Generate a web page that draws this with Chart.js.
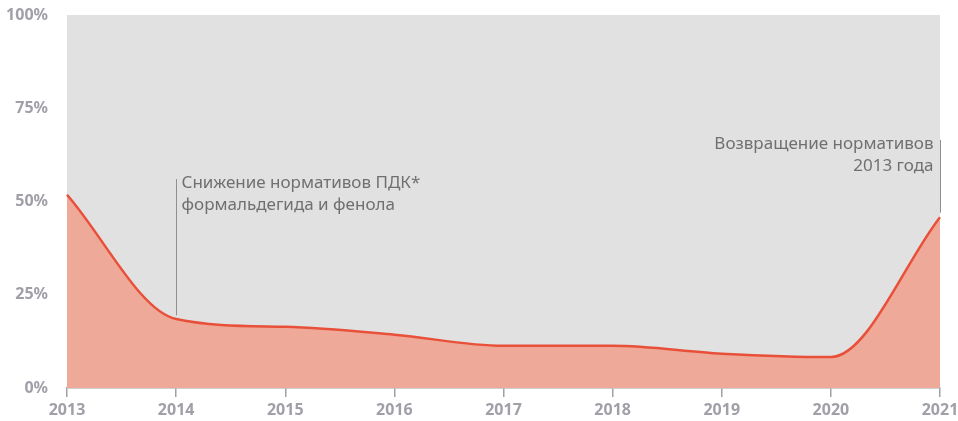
<!DOCTYPE html>
<html lang="ru">
<head>
<meta charset="UTF-8">
<title>Нормативы ПДК</title>
<script src="https://cdn.jsdelivr.net/npm/chart.js"></script>
<style>
  html, body { margin: 0; padding: 0; background: #fff; }
  #wrap { width: 958px; height: 421px; }
</style>
</head>
<body>
<div id="wrap"><canvas id="chart" width="958" height="421"></canvas></div>
<script>
    const years = ['2013', '2014', '2015', '2016', '2017', '2018', '2019', '2020', '2021'];
    const shares = [51.8, 18.5, 16.4, 14.3, 11.3, 11.3, 9.2, 8.3, 45.8];
    const yTicks = [0, 25, 50, 75, 100];

    // подписи событий: индекс года, низ и верх линии (в %)
    const notes = [
        { index: 1, from: 19.5, to: 56, align: 'left', lines: ['Снижение нормативов ПДК*', 'формальдегида и фенола'] },
        { index: 8, from: 47, to: 66.5, align: 'right', lines: ['Возвращение нормативов', '2013 года'] }
    ];

    const bgPlugin = {
        id: 'bg',
        beforeDraw(chart) {
            const { ctx, chartArea: a } = chart;
            ctx.save();
            ctx.fillStyle = '#e1e1e1';
            ctx.fillRect(a.left, a.top, a.right - a.left, a.bottom - a.top);
            ctx.restore();
        }
    };

    const notesPlugin = {
        id: 'notes',
        afterDatasetsDraw(chart) {
            const { ctx, scales } = chart;
            ctx.save();
            notes.forEach(n => {
                const x = Math.round(scales.x.getPixelForValue(n.index)) + 0.5;
                const y1 = scales.y.getPixelForValue(n.from);
                const y2 = scales.y.getPixelForValue(n.to);
                ctx.strokeStyle = '#8e8e96';
                ctx.lineWidth = 1;
                ctx.beginPath();
                ctx.moveTo(x, y1);
                ctx.lineTo(x, y2);
                ctx.stroke();
                ctx.fillStyle = '#707070';
                ctx.font = '17px "Noto Sans", sans-serif';
                ctx.textBaseline = 'top';
                ctx.textAlign = n.align;
                const tx = n.align === 'left' ? x + 5 : x - 7;
                n.lines.forEach((t, i) => ctx.fillText(t, tx, y2 - 4 + i * 22));
            });
            ctx.restore();
        }
    };

    const tickFont = { family: '"Noto Sans", sans-serif', size: 16, weight: 'bold' };

    new Chart(document.getElementById('chart'), {
        type: 'line',
        data: {
            labels: years,
            datasets: [{
                data: shares,
                borderColor: '#e8503a',
                borderWidth: 2.5,
                backgroundColor: '#efa999',
                fill: 'origin',
                pointRadius: 0,
                cubicInterpolationMode: 'monotone'
            }]
        },
        options: {
            responsive: false,
            animation: false,
            layout: { padding: { top: 15, right: 18, bottom: 0, left: 0 } },
            plugins: { legend: { display: false }, tooltip: { enabled: false } },
            scales: {
                x: {
                    offset: false,
                    afterFit: s => { s.height = 33; s.paddingRight = 0; },
                    grid: { drawOnChartArea: false, color: '#a0a0a8', tickLength: 9, lineWidth: 1.5 },
                    border: { color: '#a0a0a8', width: 1.5 },
                    ticks: { color: '#a0a0a8', font: tickFont, padding: 4, maxRotation: 0 }
                },
                y: {
                    min: 0,
                    max: 100,
                    afterFit: s => { s.width = 67; s.paddingTop = 0; s.paddingBottom = 0; },
                    afterBuildTicks: s => { s.ticks = yTicks.map(v => ({ value: v })); },
                    grid: { display: false },
                    border: { display: false },
                    ticks: {
                        color: '#a0a0a8',
                        font: tickFont,
                        padding: 11,
                        callback: v => v + '%'
                    }
                }
            }
        },
        plugins: [bgPlugin, notesPlugin]
    });
</script>
</body>
</html>
